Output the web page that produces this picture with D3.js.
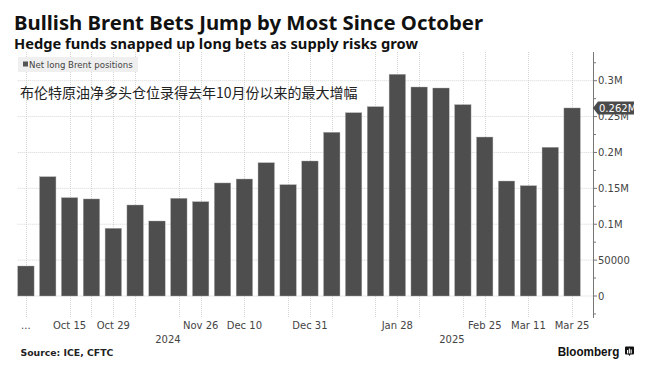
<!DOCTYPE html>
<html>
<head>
<meta charset="utf-8">
<script src="https://cdn.jsdelivr.net/npm/d3@7"></script>
<style>
  html, body { margin: 0; padding: 0; background: #ffffff; }
  svg { display: block; }
</style>
</head>
<body>
<svg id="chart" width="660" height="378"></svg>
<script>
// ---------------- data ----------------
const dates = [
  "2024-10-01","2024-10-08","2024-10-15","2024-10-22","2024-10-29",
  "2024-11-05","2024-11-12","2024-11-19","2024-11-26","2024-12-03",
  "2024-12-10","2024-12-17","2024-12-24","2024-12-31","2025-01-07",
  "2025-01-14","2025-01-21","2025-01-28","2025-02-04","2025-02-11",
  "2025-02-18","2025-02-25","2025-03-04","2025-03-11","2025-03-18",
  "2025-03-25"
];
const values = [
  41800, 166200, 137000, 135200, 94300,
  126800, 104500, 136100, 131400, 157500,
  163000, 185700, 155100, 188100, 228100,
  255400, 263800, 308900, 291200, 289800,
  266600, 221500, 160200, 153700, 207200,
  262000
];
const tickDates  = ["2024-10-01","2024-10-15","2024-10-29","2024-11-26","2024-12-10","2024-12-31","2025-01-28","2025-02-25","2025-03-11","2025-03-25"];
const tickLabels = ["...","Oct 15","Oct 29","Nov 26","Dec 10","Dec 31","Jan 28","Feb 25","Mar 11","Mar 25"];
const gridDates  = ["2024-10-01","2024-10-15","2024-10-22","2024-10-29","2024-11-05","2024-11-19","2024-11-26","2024-12-10","2024-12-24","2024-12-31","2025-01-07","2025-01-21","2025-01-28","2025-02-04","2025-02-18","2025-02-25","2025-03-11","2025-03-25"];
const years      = ["2024","2025"];
const yTicks     = [0, 50000, 100000, 150000, 200000, 250000, 300000];
const yMinorTicks= [-25000, 25000, 75000, 125000, 175000, 225000, 275000, 325000];
const seriesName = "Net long Brent positions";
const lastLabel  = "0.262M";
const title      = "Bullish Brent Bets Jump by Most Since October";
const subtitle   = "Hedge funds snapped up long bets as supply risks grow";
const annotation = "布伦特原油净多头仓位录得去年10月份以来的最大增幅";
const source     = "Source: ICE, CFTC";

// ---------------- layout ----------------
const svg = d3.select("#chart");
const plotTop = 52, plotBottom = 318, plotLeft = 17.7, axisX = 593;
const barColor = "#4e4e4e";
const gridColor = "#d4d4d4";

const x = d3.scaleBand().domain(dates).range([17.7, 580.3]).paddingInner(0.25).paddingOuter(0);
const y = d3.scaleLinear().domain([0, 300000]).range([296, 80.7]);
const bw = x.bandwidth();
const cx = d => x(d) + bw / 2;

// horizontal grid
svg.append("g").selectAll("line").data(yTicks).join("line")
  .attr("x1", plotLeft).attr("x2", axisX)
  .attr("y1", d => y(d)).attr("y2", d => y(d))
  .attr("stroke", gridColor).attr("stroke-width", 1).attr("stroke-dasharray", "1,1");

// vertical grid
svg.append("g").selectAll("line").data(gridDates).join("line")
  .attr("x1", d => Math.round(cx(d)) + 0.5).attr("x2", d => Math.round(cx(d)) + 0.5)
  .attr("y1", plotTop).attr("y2", plotBottom)
  .attr("stroke", gridColor).attr("stroke-width", 1).attr("stroke-dasharray", "1,1");

// legend
const lg = svg.append("g");
lg.append("rect").attr("x", 18).attr("y", 57).attr("width", 120).attr("height", 15).attr("fill", "#efefef");
lg.append("rect").attr("x", 23).attr("y", 61.5).attr("width", 5).attr("height", 5).attr("fill", "#555");
lg.append("text").attr("x", 29).attr("y", 68.3).text(seriesName)
  .attr("font-family", "DejaVu Sans").attr("font-size", 8.6).attr("fill", "#444");

// annotation
svg.append("text").attr("x", 20).attr("y", 98).text(annotation)
  .attr("font-family", "Noto Sans CJK SC").attr("font-size", 14).attr("fill", "#222");

// bars
svg.append("g").selectAll("rect").data(dates).join("rect")
  .attr("x", d => x(d)).attr("width", bw)
  .attr("y", (d, i) => y(values[i])).attr("height", (d, i) => y(0) - y(values[i]))
  .attr("fill", barColor).attr("stroke", "#a8a8a8").attr("stroke-width", 0.4);

// right axis
const ax = svg.append("g");
ax.append("line").attr("x1", axisX + 0.5).attr("x2", axisX + 0.5).attr("y1", plotTop).attr("y2", plotBottom)
  .attr("stroke", "#777").attr("stroke-width", 1);
ax.selectAll("line.major").data(yTicks).join("line").attr("class", "major")
  .attr("x1", axisX).attr("x2", axisX + 4).attr("y1", d => y(d)).attr("y2", d => y(d))
  .attr("stroke", "#777");
ax.selectAll("line.minor").data(yMinorTicks).join("line").attr("class", "minor")
  .attr("x1", axisX).attr("x2", axisX + 3).attr("y1", d => y(d)).attr("y2", d => y(d))
  .attr("stroke", "#777");
const fmtY = d => d === 0 ? "0" : (d < 100000 ? String(d) : (d / 1e6) + "M");
ax.selectAll("text").data(yTicks).join("text")
  .attr("x", axisX + 5).attr("y", d => y(d)).attr("dy", "0.36em")
  .text(fmtY)
  .attr("font-family", "DejaVu Sans").attr("font-size", 10).attr("fill", "#444");

// last value tag
const lastVal = values[values.length - 1];
const ty = y(lastVal);
svg.append("path")
  .attr("d", `M${axisX},${ty} L${axisX + 5},${ty - 6.5} L${axisX + 41},${ty - 6.5} L${axisX + 41},${ty + 6.5} L${axisX + 5},${ty + 6.5} Z`)
  .attr("fill", "#4a4a4a");
svg.append("text").attr("x", axisX + 6).attr("y", ty).attr("dy", "0.36em").text(lastLabel)
  .attr("font-family", "DejaVu Sans").attr("font-size", 10).attr("fill", "#fff");

// x tick labels
svg.append("g").selectAll("text").data(tickDates).join("text")
  .attr("x", d => cx(d)).attr("y", 328.5).attr("text-anchor", "middle")
  .text((d, i) => tickLabels[i])
  .attr("font-family", "DejaVu Sans").attr("font-size", 10).attr("fill", "#444");

// year labels (centered on each year's span)
const yearCenters = years.map(yr => {
  const ds = dates.filter(d => d.startsWith(yr));
  return (x(ds[0]) + x(ds[ds.length - 1]) + bw) / 2;
});
svg.append("g").selectAll("text").data(years).join("text")
  .attr("x", (d, i) => yearCenters[i]).attr("y", 342.5).attr("text-anchor", "middle")
  .text(d => d)
  .attr("font-family", "DejaVu Sans").attr("font-size", 10).attr("fill", "#444");

// title + subtitle
svg.append("text").attr("x", 14).attr("y", 30).text(title)
  .attr("font-family", "Noto Sans").attr("font-weight", "bold").attr("font-size", 19)
  .attr("fill", "#111").attr("textLength", 469).attr("lengthAdjust", "spacingAndGlyphs");
svg.append("text").attr("x", 14).attr("y", 49).text(subtitle)
  .attr("font-family", "Noto Sans").attr("font-weight", "bold").attr("font-size", 13.5)
  .attr("fill", "#111").attr("textLength", 404).attr("lengthAdjust", "spacingAndGlyphs");

// source
svg.append("text").attr("x", 20.5).attr("y", 355.5).text(source)
  .attr("font-family", "DejaVu Sans").attr("font-weight", "bold").attr("font-size", 9.3).attr("fill", "#222");

// Bloomberg logo
svg.append("text").attr("x", 557.7).attr("y", 355.5).text("Bloomberg")
  .attr("font-family", "Liberation Sans").attr("font-weight", "bold").attr("font-size", 12.5)
  .attr("fill", "#111").attr("textLength", 61.6).attr("lengthAdjust", "spacingAndGlyphs");
const logo = svg.append("g").attr("transform", "translate(625,346.5)");
logo.append("path").attr("d", "M1,0 H8 Q9,0 9,1 V7 Q9,8 8,8 H5.5 L4.5,9.5 L3.5,8 H1 Q0,8 0,7 V1 Q0,0 1,0 Z").attr("fill", "#111");
[[2, 3.5, 3.5], [3.8, 2, 5], [5.6, 3, 4]].forEach(([bx, by, bh]) =>
  logo.append("rect").attr("x", bx).attr("y", by).attr("width", 1.1).attr("height", bh).attr("fill", "#fff"));
</script>
</body>
</html>
